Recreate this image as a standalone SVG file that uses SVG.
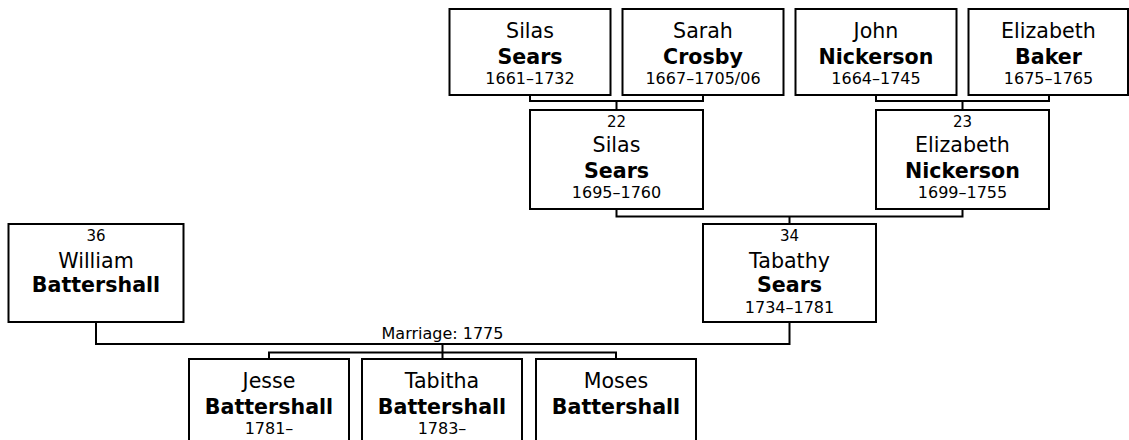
<svg xmlns="http://www.w3.org/2000/svg" width="1129" height="440" viewBox="0 0 1129 440">
<style>
.box{fill:#fff;stroke:#000;stroke-width:2}
.con{fill:none;stroke:#000;stroke-width:2}
text{font-family:"DejaVu Sans","Verdana",sans-serif;fill:#000;text-anchor:middle}
.num{font-size:15px}
.gn{font-size:20.6px}
.sn{font-size:20.6px;font-weight:bold}
.dt{font-size:16px}
.lbl{font-size:16px}
</style>
<rect width="1129" height="440" fill="#fff"/>
<g id="connectors">
<path class="con" d="M530,95 V101 H703 V95 M616.5,101 V110"/>
<path class="con" d="M876,95 V101 H1049 V95 M962.5,101 V110"/>
<path class="con" d="M616.5,209 V216.5 H962.5 V209 M789.5,216.5 V224"/>
<path class="con" d="M96,322 V344 H789.5 V322 M442.5,344 V352.5 M269,359 V352.5 H616 V359 M442.5,352.5 V359"/>
<text class="lbl" x="442.5" y="339">Marriage: 1775</text>
</g>
<g id="silas_sears_1661">
<rect class="box" x="449.5" y="9" width="161" height="86"/>
<text class="gn" x="530" y="38">Silas</text>
<text class="sn" x="530" y="64">Sears</text>
<text class="dt" x="530" y="84">1661–1732</text>
</g>
<g id="sarah_crosby">
<rect class="box" x="622.5" y="9" width="161" height="86"/>
<text class="gn" x="703" y="38">Sarah</text>
<text class="sn" x="703" y="64">Crosby</text>
<text class="dt" x="703" y="84">1667–1705/06</text>
</g>
<g id="john_nickerson">
<rect class="box" x="795.5" y="9" width="161" height="86"/>
<text class="gn" x="876" y="38">John</text>
<text class="sn" x="876" y="64">Nickerson</text>
<text class="dt" x="876" y="84">1664–1745</text>
</g>
<g id="elizabeth_baker">
<rect class="box" x="968.5" y="9" width="159.5" height="86"/>
<text class="gn" x="1048.5" y="38">Elizabeth</text>
<text class="sn" x="1048.5" y="64">Baker</text>
<text class="dt" x="1048.5" y="84">1675–1765</text>
</g>
<g id="silas_sears_22">
<rect class="box" x="530" y="110" width="173" height="99"/>
<text class="num" x="616.5" y="127.3">22</text>
<text class="gn" x="616.5" y="152">Silas</text>
<text class="sn" x="616.5" y="178.3">Sears</text>
<text class="dt" x="616.5" y="198.3">1695–1760</text>
</g>
<g id="elizabeth_nickerson_23">
<rect class="box" x="876" y="110" width="173" height="99"/>
<text class="num" x="962.5" y="127.3">23</text>
<text class="gn" x="962.5" y="152">Elizabeth</text>
<text class="sn" x="962.5" y="178.3">Nickerson</text>
<text class="dt" x="962.5" y="198.3">1699–1755</text>
</g>
<g id="tabathy_sears_34">
<rect class="box" x="703" y="224" width="173" height="98"/>
<text class="num" x="789.5" y="241">34</text>
<text class="gn" x="789.5" y="267.5">Tabathy</text>
<text class="sn" x="789.5" y="292">Sears</text>
<text class="dt" x="789.5" y="312.7">1734–1781</text>
</g>
<g id="william_battershall_36">
<rect class="box" x="8.5" y="224" width="175" height="98"/>
<text class="num" x="96" y="241">36</text>
<text class="gn" x="96" y="267.5">William</text>
<text class="sn" x="96" y="292">Battershall</text>
</g>
<g id="jesse_battershall">
<rect class="box" x="189" y="359" width="160" height="100"/>
<text class="gn" x="269" y="388.3">Jesse</text>
<text class="sn" x="269" y="413.5">Battershall</text>
<text class="dt" x="269" y="433.5">1781–</text>
</g>
<g id="tabitha_battershall">
<rect class="box" x="362" y="359" width="160" height="100"/>
<text class="gn" x="442" y="388.3">Tabitha</text>
<text class="sn" x="442" y="413.5">Battershall</text>
<text class="dt" x="442" y="433.5">1783–</text>
</g>
<g id="moses_battershall">
<rect class="box" x="536" y="359" width="160" height="100"/>
<text class="gn" x="616" y="388.3">Moses</text>
<text class="sn" x="616" y="413.5">Battershall</text>
</g>
</svg>
